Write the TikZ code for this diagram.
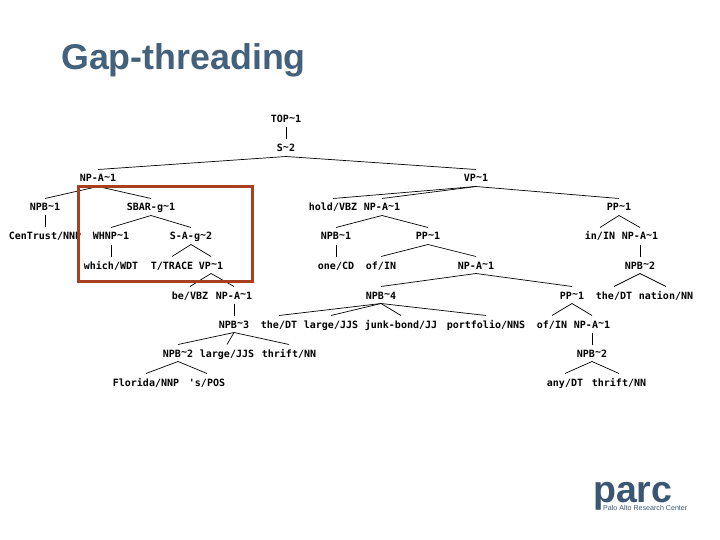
\documentclass[tikz,border=0pt]{standalone}
\usepackage{fontspec}
\setmainfont{Liberation Sans}
\newfontfamily\labfont{DejaVu Sans Mono}
\newcommand{\tl}{\raisebox{.25ex}{\textasciitilde}}
\definecolor{titleblue}{HTML}{44617B}
\definecolor{logoblue}{HTML}{3A5673}
\definecolor{boxred}{HTML}{A8401F}
\tikzset{
  lab/.style={inner sep=0pt,outer sep=0pt,text height=9pt,text depth=1pt,minimum height=17pt,font=\labfont\bfseries\fontsize{10}{10}\selectfont},
  edge/.style={draw=black,line width=0.7pt},
}
\begin{document}
\begin{tikzpicture}[x=1pt,y=-1pt]
\useasboundingbox (0,0) rectangle (720,540);
\node[anchor=base west,inner sep=0pt,text=titleblue,font=\bfseries\fontsize{35.8}{36}\selectfont] (title) at (61,70) {Gap-threading};

\node[lab] (top) at (286,119) {TOP\tl 1};
\node[lab] (s) at (286,148) {S\tl 2};
\node[lab] (npa) at (98,178) {NP-A\tl 1};
\node[lab] (vp) at (476,178) {VP\tl 1};
\node[lab] (npb1) at (45,207) {NPB\tl 1};
\node[lab] (sbar) at (151,207) {SBAR-g\tl 1};
\node[lab] (hold) at (333,207) {hold/VBZ};
\node[lab] (npa2) at (382,207) {NP-A\tl 1};
\node[lab] (pp1) at (619,207) {PP\tl 1};
\node[lab] (cen) at (45,236) {CenTrust/NNP};
\node[lab] (whnp) at (111,236) {WHNP\tl 1};
\node[lab] (sag) at (191,236) {S-A-g\tl 2};
\node[lab] (npb2) at (336,236) {NPB\tl 1};
\node[lab] (pp2) at (428,236) {PP\tl 1};
\node[lab] (in) at (600,236) {in/IN};
\node[lab] (npa3) at (640,236) {NP-A\tl 1};
\node[lab] (which) at (111,265) {which/WDT};
\node[lab] (trace) at (172,265) {T/TRACE};
\node[lab] (vp2) at (211,265) {VP\tl 1};
\node[lab] (one) at (336,265) {one/CD};
\node[lab] (of) at (381,265) {of/IN};
\node[lab] (npa4) at (476,265) {NP-A\tl 1};
\node[lab] (npb3) at (640,265) {NPB\tl 2};
\node[lab] (be) at (190,295) {be/VBZ};
\node[lab] (npa5) at (234,295) {NP-A\tl 1};
\node[lab] (npb4) at (381,295) {NPB\tl 4};
\node[lab] (pp3) at (572,295) {PP\tl 1};
\node[lab] (the1) at (614,295) {the/DT};
\node[lab] (nation) at (666,295) {nation/NN};
\node[lab] (npb5) at (234,324) {NPB\tl 3};
\node[lab] (the2) at (279,324) {the/DT};
\node[lab] (large1) at (331,324) {large/JJS};
\node[lab] (junk) at (401,324) {junk-bond/JJ};
\node[lab] (port) at (486,324) {portfolio/NNS};
\node[lab] (of2) at (552,324) {of/IN};
\node[lab] (npa6) at (592,324) {NP-A\tl 1};
\node[lab] (npb6) at (178,353) {NPB\tl 2};
\node[lab] (large2) at (227,353) {large/JJS};
\node[lab] (thrift1) at (289,353) {thrift/NN};
\node[lab] (npb7) at (592,353) {NPB\tl 2};
\node[lab] (fl) at (146,382) {Florida/NNP};
\node[lab] (pos) at (207,382) {'s/POS};
\node[lab] (any) at (565,382) {any/DT};
\node[lab] (thrift2) at (619,382) {thrift/NN};

\foreach \p/\c in {top/s,s/npa,s/vp,npa/npb1,npa/sbar,vp/hold,vp/npa2,vp/pp1,
  npb1/cen,sbar/whnp,sbar/sag,npa2/npb2,npa2/pp2,pp1/in,pp1/npa3,
  whnp/which,sag/trace,sag/vp2,npb2/one,pp2/of,pp2/npa4,npa3/npb3,
  vp2/be,vp2/npa5,npa4/npb4,npa4/pp3,npb3/the1,npb3/nation,
  npa5/npb5,npb4/the2,npb4/large1,npb4/junk,npb4/port,pp3/of2,pp3/npa6,
  npb5/npb6,npb5/large2,npb5/thrift1,npa6/npb7,
  npb6/fl,npb6/pos,npb7/any,npb7/thrift2}
  \draw[edge] (\p.south) -- (\c.north);

\node[draw=boxred,line width=3pt,inner sep=0pt,minimum width=173.5pt,minimum height=95pt] (hl) at (165.7,234) {};

\node[anchor=base west,inner sep=0pt,text depth=0pt,text=logoblue,font=\bfseries\fontsize{37.5}{38}\selectfont] (logo) at (593,502) {parc};
\node[anchor=base west,inner sep=0pt,text=logoblue,font=\fontsize{7.1}{7}\selectfont] (logosub) at (603,510) {Palo Alto Research Center};
\end{tikzpicture}
\end{document}
